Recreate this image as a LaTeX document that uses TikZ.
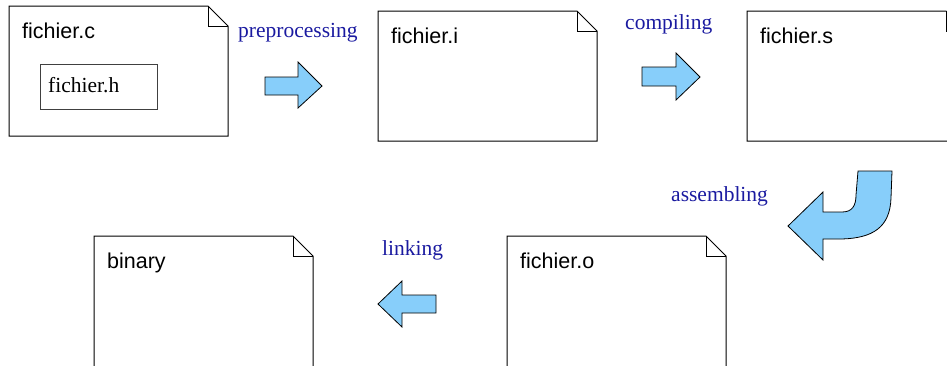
\documentclass[tikz,border=0pt]{standalone}
\usepackage{fontspec}
\setmainfont{Liberation Serif}
\setsansfont{Liberation Sans}
\usepackage{xcolor}
\definecolor{steplabel}{RGB}{26,26,160}
\definecolor{arrowfill}{RGB}{135,206,250}
\tikzset{
  page/.style={black, line width=1pt},
  filename/.style={anchor=base west, inner sep=0pt, font=\sffamily\fontsize{21.5}{24}\selectfont},
  stepname/.style={anchor=base west, inner sep=0pt, text=steplabel, font=\fontsize{21.5}{24}\selectfont},
  bigarrow/.style={fill=arrowfill, draw=black, line width=0.8pt, line join=miter}
}

\begin{document}
\begin{tikzpicture}[x=1pt, y=-1pt]
\useasboundingbox (0,0) rectangle (947,365);
\clip (0,0) rectangle (947,365);
% pages with a folded corner
\foreach \px/\py/\ph in {9/6/130, 378/11/130, 747/11/130, 94/236/140, 507/236/140}{
  \draw[page] (\px,\py) -- (\px+199,\py) -- (\px+219,\py+20) -- (\px+219,\py+\ph) -- (\px,\py+\ph) -- cycle;
  \draw[page] (\px+199,\py) -- (\px+199,\py+20) -- (\px+219,\py+20);
}
\node[filename] (src) at (22,38) {fichier.c};
\node[filename] (pre) at (391,43) {fichier.i};
\node[filename] (asm) at (760,43) {fichier.s};
\node[filename] (bin) at (107,268) {binary};
\node[filename] (obj) at (520,268) {fichier.o};
% header inside the source
\draw[black!75, line width=1pt] (40,64) rectangle (157,109);
\node[stepname, text=black] (hdr) at (48,92) {fichier.h};
% steps
\node[stepname] (preproc) at (238,37) {preprocessing};
\node[stepname] (compil) at (625,29) {compiling};
\node[stepname] (assem) at (671,201) {assembling};
\node[stepname] (link) at (382,255) {linking};
\draw[bigarrow] (265,77) -- (298,77) -- (298,62) -- (322,86) -- (298,108) -- (298,95) -- (265,95) -- cycle;
\draw[bigarrow] (642,67) -- (676,67) -- (676,53) -- (700,77) -- (676,100) -- (676,86) -- (642,86) -- cycle;
\draw[bigarrow] (788,226) -- (823,192) -- (823,212) -- (842,212) .. controls (852,212) and (856,206) .. (856,195) -- (858,171) -- (892,171) -- (891,198) .. controls (890,228) and (872,238) .. (842,239) -- (823,239) -- (823,260) -- cycle;
\draw[bigarrow] (436,295) -- (402,295) -- (402,281) -- (378,304) -- (402,327) -- (402,313) -- (436,313) -- cycle;
\end{tikzpicture}
\end{document}
